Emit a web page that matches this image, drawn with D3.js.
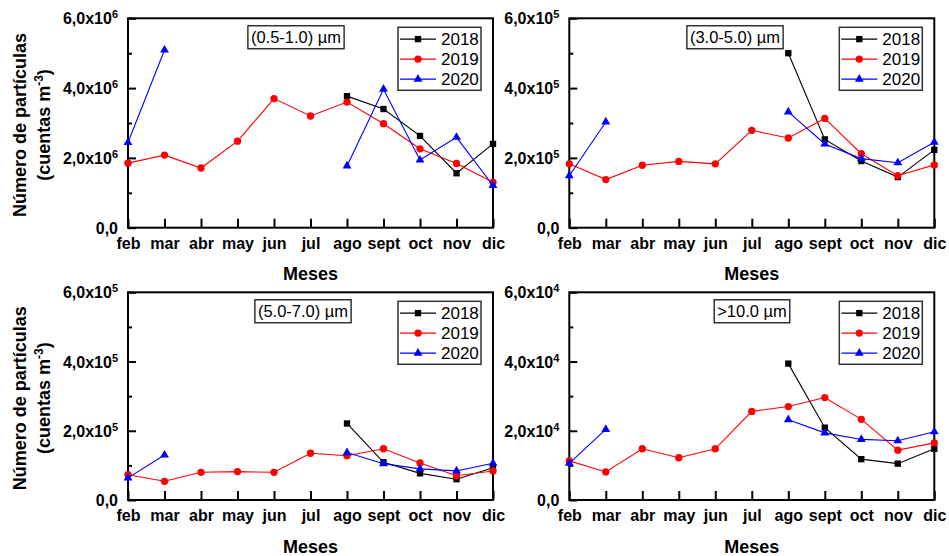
<!DOCTYPE html>
<html>
<head>
<meta charset="utf-8">
<script src="https://cdn.jsdelivr.net/npm/d3@7"></script>
<style>
  body { margin: 0; background: #fff; }
  svg { display: block; font-family: Arial, "Liberation Sans", sans-serif; }
</style>
</head>
<body>
<svg id="chart" width="949" height="556"></svg>
<script>
// Months on the x axis
const months = ["feb", "mar", "abr", "may", "jun", "jul", "ago", "sept", "oct", "nov", "dic"];
const years = ["2018", "2019", "2020"];
const yearColors = ["#000000", "#ff0000", "#0000ff"];

// Particle counts (cuentas m^-3) per size range, one array per year
const n = null;
const pm05_2018 = [n, n, n, n, n, n, 3.77e6, 3.40e6, 2.63e6, 1.56e6, 2.40e6];
const pm05_2019 = [1.85e6, 2.08e6, 1.71e6, 2.48e6, 3.70e6, 3.20e6, 3.60e6, 2.98e6, 2.26e6, 1.84e6, 1.30e6];
const pm05_2020 = [2.44e6, 5.09e6, n, n, n, n, 1.77e6, 3.97e6, 1.94e6, 2.59e6, 1.21e6];

const pm30_2018 = [n, n, n, n, n, n, 5.00e5, 2.53e5, 1.91e5, 1.45e5, 2.23e5];
const pm30_2019 = [1.83e5, 1.38e5, 1.79e5, 1.90e5, 1.83e5, 2.79e5, 2.57e5, 3.13e5, 2.12e5, 1.49e5, 1.80e5];
const pm30_2020 = [1.49e5, 3.03e5, n, n, n, n, 3.32e5, 2.40e5, 1.98e5, 1.86e5, 2.45e5];

const pm50_2018 = [n, n, n, n, n, n, 2.21e5, 1.09e5, 0.77e5, 0.60e5, 0.93e5];
const pm50_2019 = [0.73e5, 0.54e5, 0.80e5, 0.82e5, 0.80e5, 1.35e5, 1.28e5, 1.48e5, 1.07e5, 0.70e5, 0.84e5];
const pm50_2020 = [0.64e5, 1.30e5, n, n, n, n, 1.37e5, 1.05e5, 0.90e5, 0.84e5, 1.06e5];

const pm10_2018 = [n, n, n, n, n, n, 3.94e4, 2.09e4, 1.18e4, 1.05e4, 1.48e4];
const pm10_2019 = [1.13e4, 0.81e4, 1.48e4, 1.22e4, 1.48e4, 2.56e4, 2.70e4, 2.96e4, 2.33e4, 1.44e4, 1.65e4];
const pm10_2020 = [1.06e4, 2.04e4, n, n, n, n, 2.32e4, 1.94e4, 1.75e4, 1.71e4, 1.97e4];

// Axis tick mantissas (major) and the minor positions, in units of 10^exponent
const yMajorTicks = [0, 2, 4, 6];
const yMajorLabels = ["0,0", "2,0", "4,0", "6,0"];
const yMinorTicks = [1, 3, 5];

const rangeLabels = ["(0.5-1.0) \u00b5m", "(3.0-5.0) \u00b5m", "(5.0-7.0) \u00b5m", ">10.0 \u00b5m"];
const exponents = [6, 5, 5, 4];
const panelSeries = [
  [pm05_2018, pm05_2019, pm05_2020],
  [pm30_2018, pm30_2019, pm30_2020],
  [pm50_2018, pm50_2019, pm50_2020],
  [pm10_2018, pm10_2019, pm10_2020]
];

// Layout of the four plot frames
const frames = [
  { x0: 128, x1: 493, y0: 18.3, y1: 227.7, ytitle: true, labelCx: 296 },
  { x0: 569.3, x1: 934.3, y0: 18.3, y1: 227.7, ytitle: false, labelCx: 735 },
  { x0: 128, x1: 493, y0: 292.3, y1: 500, ytitle: true, labelCx: 303 },
  { x0: 569.3, x1: 934.3, y0: 292.3, y1: 500, ytitle: false, labelCx: 752 }
];

const FONT = "Arial, 'Liberation Sans', sans-serif";
const svg = d3.select("#chart");
svg.append("rect").attr("width", 949).attr("height", 556).attr("fill", "#fff");

const symbols = [d3.symbolSquare, d3.symbolCircle, d3.symbolTriangle];
const symbolSizes = [40, 42, 34];

frames.forEach((f, i) => {
  const unit = Math.pow(10, exponents[i]);
  const x = d3.scalePoint().domain(months).range([f.x0, f.x1]).padding(0);
  const y = d3.scaleLinear().domain([0, 6 * unit]).range([f.y1, f.y0]);
  const g = svg.append("g");

  // minor y ticks
  const ym = g.append("g")
    .attr("transform", `translate(${f.x0},0)`)
    .call(d3.axisLeft(y).tickValues(yMinorTicks.map(t => t * unit)).tickSizeInner(-4).tickSizeOuter(0).tickFormat(""));
  ym.select(".domain").remove();
  ym.selectAll("line").attr("stroke", "#000").attr("stroke-width", 2);

  // major y ticks with scientific labels
  const ya = g.append("g")
    .attr("transform", `translate(${f.x0},0)`)
    .call(d3.axisLeft(y).tickValues(yMajorTicks.map(t => t * unit)).tickSizeInner(-8).tickSizeOuter(0).tickPadding(10).tickFormat(""));
  ya.select(".domain").remove();
  ya.selectAll("line").attr("stroke", "#000").attr("stroke-width", 2);
  ya.selectAll(".tick text").each(function (d, k) {
    const t = d3.select(this)
      .attr("font-size", 16).attr("font-weight", "bold").attr("fill", "#000")
      .attr("font-family", FONT)
      .attr("dy", "0.35em");
    t.text(null);
    t.append("tspan").text(yMajorLabels[k] + (yMajorTicks[k] === 0 ? "" : "x10"));
    if (yMajorTicks[k] !== 0) {
      t.append("tspan").attr("font-size", 11).attr("dy", -6).text(exponents[i]);
    }
  });

  // x axis, ticks pointing inward
  const xa = g.append("g")
    .attr("transform", `translate(0,${f.y1})`)
    .call(d3.axisBottom(x).tickSizeInner(-9).tickSizeOuter(0).tickPadding(10));
  xa.select(".domain").remove();
  xa.selectAll("line").attr("stroke", "#000").attr("stroke-width", 2);
  xa.selectAll("text")
    .attr("font-size", 16).attr("font-weight", "bold").attr("fill", "#000")
    .attr("font-family", FONT);

  // frame
  g.append("rect")
    .attr("x", f.x0).attr("y", f.y0)
    .attr("width", f.x1 - f.x0).attr("height", f.y1 - f.y0)
    .attr("fill", "none").attr("stroke", "#000").attr("stroke-width", 2);

  // series lines and markers
  panelSeries[i].forEach((vals, s) => {
    const pts = vals.map((v, k) => ({ m: months[k], v }));
    const line = d3.line()
      .defined(d => d.v !== null)
      .x(d => x(d.m)).y(d => y(d.v));
    g.append("path")
      .attr("d", line(pts))
      .attr("fill", "none").attr("stroke", yearColors[s]).attr("stroke-width", 1.1);
    g.selectAll(null)
      .data(pts.filter(d => d.v !== null))
      .join("path")
      .attr("transform", d => `translate(${x(d.m)},${y(d.v)})`)
      .attr("d", d3.symbol().type(symbols[s]).size(symbolSizes[s]))
      .attr("fill", yearColors[s]);
  });

  // size-range label box
  const boxRect = g.append("rect");
  const lbl = g.append("text")
    .attr("x", f.labelCx).attr("y", f.y0 + 24.5)
    .attr("text-anchor", "middle")
    .attr("font-size", 16.5).attr("fill", "#000")
    .text(rangeLabels[i]);
  const bb = lbl.node().getBBox();
  boxRect
    .attr("x", bb.x - 3).attr("y", f.y0 + 7.5)
    .attr("width", bb.width + 6).attr("height", 23)
    .attr("fill", "#fff").attr("stroke", "#000").attr("stroke-width", 1.2);

  // legend
  const lx = f.x1 - 95, ly = f.y0 + 9;
  const lg = g.append("g").attr("transform", `translate(${lx},${ly})`);
  lg.append("rect").attr("width", 83).attr("height", 63)
    .attr("fill", "#fff").attr("stroke", "#333").attr("stroke-width", 1.5);
  years.forEach((yr, s) => {
    const cy = 11.8 + s * 20;
    lg.append("line").attr("x1", 2).attr("x2", 38).attr("y1", cy).attr("y2", cy)
      .attr("stroke", yearColors[s]).attr("stroke-width", 1.1);
    lg.append("path").attr("transform", `translate(20,${cy})`)
      .attr("d", d3.symbol().type(symbols[s]).size(symbolSizes[s]))
      .attr("fill", yearColors[s]);
    lg.append("text").attr("x", 43).attr("y", cy + 6)
      .attr("font-size", 17).attr("fill", "#000").text(yr);
  });

  // x title
  g.append("text")
    .attr("x", (f.x0 + f.x1) / 2).attr("y", f.y1 + 52.5)
    .attr("text-anchor", "middle").attr("font-size", 18).attr("font-weight", "bold")
    .text("Meses");

  // y title (left column only)
  if (f.ytitle) {
    const cy = (f.y0 + f.y1) / 2 + 2;
    const t = g.append("g").attr("transform", `translate(0,${cy}) rotate(-90)`);
    t.append("text").attr("x", 0).attr("y", 26)
      .attr("text-anchor", "middle").attr("font-size", 18).attr("font-weight", "bold")
      .text("N\u00famero de part\u00edculas");
    const t2 = t.append("text").attr("x", 0).attr("y", 49.5)
      .attr("text-anchor", "middle").attr("font-size", 18).attr("font-weight", "bold");
    t2.append("tspan").text("(cuentas m");
    t2.append("tspan").attr("font-size", 12).attr("dy", -7).text("-3");
    t2.append("tspan").attr("dy", 7).text(")");
  }
});
</script>
</body>
</html>
